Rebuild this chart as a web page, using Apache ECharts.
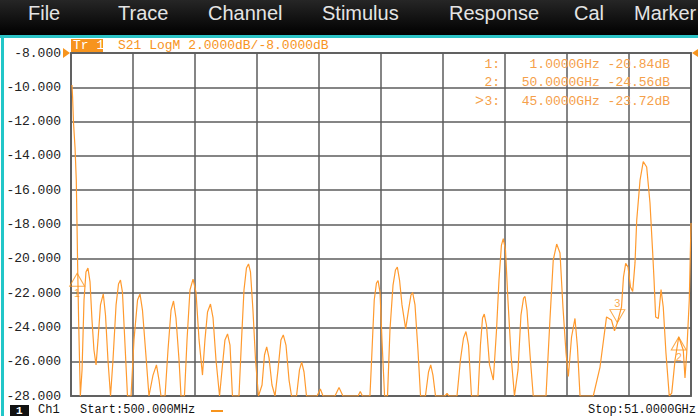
<!DOCTYPE html>
<html>
<head>
<meta charset="utf-8">
<title>S21 LogM</title>
<script src="https://cdn.jsdelivr.net/npm/echarts@6/dist/echarts.min.js"></script>
<style>
  html, body { margin: 0; padding: 0; background: #fff; }
  #chart { width: 698px; height: 416px; }
</style>
</head>
<body>
<div id="chart"></div>
<script>
// 频率 (GHz) / S21 (dB)，从截图读取
const freqGHz = [
  0.58, 0.63, 0.70, 0.83, 0.93, 0.99, 1.04, 1.12, 1.26, 1.40,
  1.56, 1.72, 1.88, 2.05, 2.21, 2.37, 2.54, 2.70, 2.90, 3.13,
  3.31, 3.51, 3.72, 3.92, 4.17, 4.37, 4.53, 4.69, 4.90, 5.10,
  5.39, 5.63, 5.92, 6.12, 6.32, 6.57, 6.85, 7.18, 7.46, 7.67,
  7.83, 8.16, 8.40, 8.65, 8.85, 9.05, 9.30, 9.46, 9.74, 9.95,
  10.19, 10.44, 10.68, 10.93, 11.21, 11.41, 11.62, 11.86, 12.07, 12.31,
  12.60, 12.80, 13.04, 13.25, 13.45, 13.65, 14.18, 14.39, 14.59, 14.79,
  14.96, 15.12, 15.32, 15.53, 15.77, 16.06, 16.26, 16.44, 16.63, 16.87,
  17.12, 17.36, 17.60, 17.79, 18.01, 18.26, 18.46, 18.87, 19.11, 19.29,
  19.48, 19.68, 20.54, 20.81, 21.03, 22.00, 22.33, 22.65, 23.88, 24.06,
  24.24, 24.85, 25.02, 25.20, 25.38, 25.51, 25.67, 25.83, 26.04, 26.28,
  26.48, 26.73, 26.93, 27.08, 27.26, 27.46, 27.76, 27.99, 28.19, 28.33,
  28.52, 28.76, 28.97, 29.37, 29.62, 29.80, 29.98, 30.19, 30.96, 31.13,
  31.29, 31.94, 32.22, 32.47, 32.67, 32.88, 33.12, 33.65, 33.85, 34.02,
  34.16, 34.34, 34.59, 34.90, 35.16, 35.36, 35.56, 35.71, 35.89, 36.09,
  36.34, 36.62, 36.91, 37.15, 37.36, 37.48, 37.64, 37.89, 38.15, 39.19,
  39.51, 39.78, 40.06, 40.33, 40.57, 40.82, 41.01, 41.27, 41.55, 41.75,
  41.96, 43.04, 43.59, 44.12, 44.52, 44.77, 45.00, 45.34, 45.50, 45.68,
  45.87, 46.07, 46.25, 46.44, 46.58, 46.85, 47.11, 47.39, 47.66, 47.88,
  47.99, 48.12, 48.34, 48.56, 48.74, 48.96, 49.23, 49.43, 49.70, 50.00,
  50.37, 50.51, 50.65, 50.86, 51.00
];
const traceDb = [
  -9.87, -10.57, -12.02, -13.54, -15.41, -18.03, -20.36, -23.57, -28, -26.48,
  -22.40, -20.77, -20.54, -21.35, -23.57, -25.32, -26.19, -24.73, -22.69, -22.05,
  -23.28, -25.90, -28, -25.90, -22.69, -21.47, -21.24, -21.94, -25.03, -28,
  -28, -24.73, -22.40, -22.05, -22.99, -25.32, -28, -26.78, -26.19, -27.07,
  -28, -28, -25.32, -22.99, -22.46, -23.45, -25.90, -28, -28, -24.73,
  -21.82, -21.18, -21.94, -24.73, -26.78, -24.73, -23.10, -22.64, -23.45, -25.90,
  -28, -26.48, -24.73, -24.38, -25.03, -28, -28, -24.73, -21.82, -20.54,
  -20.30, -20.77, -22.99, -25.90, -28, -27.36, -25.61, -25.14, -25.78, -27.36,
  -28, -26.48, -24.73, -24.44, -25.03, -27.07, -28, -28, -26.48, -26.02,
  -26.60, -28, -28, -27.59, -28, -28, -27.50, -28, -28, -27.74,
  -28, -28, -25.32, -22.40, -21.41, -21.27, -21.94, -24.73, -28, -28,
  -24.15, -21.53, -20.65, -20.48, -21.24, -22.69, -24.09, -22.99, -22.11, -21.97,
  -22.69, -25.32, -28, -28, -26.60, -26.19, -26.78, -28, -28, -27.85,
  -28, -28, -25.90, -24.62, -24.24, -25.03, -28, -28, -25.03, -23.45,
  -23.22, -23.86, -26.19, -27.07, -24.15, -21.24, -19.20, -18.82, -19.49, -22.40,
  -25.61, -28, -26.48, -23.28, -22.29, -22.20, -22.99, -25.61, -28, -28,
  -23.57, -20.07, -19.14, -19.66, -22.81, -25.49, -26.86, -24.56, -23.48, -25.14,
  -28, -28, -26.31, -23.39, -23.57, -24.20, -23.72, -22.81, -21.06, -20.27,
  -20.48, -21.64, -21.91, -20.24, -17.74, -15.41, -14.33, -14.65, -16.75, -19.66,
  -21.24, -23.39, -23.48, -21.79, -22.81, -25.49, -28, -27.83, -25.90, -24.56,
  -25.32, -26.95, -25.49, -22.40, -17.91
];

// 标记点
const markerNames = ['1', '2', '3'];
const markerFreq  = [1.0, 50.0, 45.0];
const markerDb    = [-20.84, -24.56, -23.72];
const activeMarker = 2;

// 菜单栏
const menuItems = ['File', 'Trace', 'Channel', 'Stimulus', 'Response', 'Cal', 'Marker'];
const menuX     = [28, 118, 208, 322, 449, 574, 634];

const startLabel = 'Start:500.000MHz';
const stopLabel  = 'Stop:51.0000GHz';
const traceTitle = 'S21 LogM 2.0000dB/-8.0000dB';

const ORANGE = '#F7941D';
const MONO = '"Liberation Mono", "DejaVu Sans Mono", monospace';

const chart = echarts.init(document.getElementById('chart'), null, { renderer: 'svg' });

const tracePts = freqGHz.map((f, i) => [f, traceDb[i]]);

// 标记读数（右上角）
const readout = [];
markerNames.forEach((name, i) => {
  const y = 64 + i * 18.7;
  const font = '13px ' + MONO;
  if (i === activeMarker) {
    readout.push({ type: 'text', x: 484, y: y, z: 20,
      style: { text: '>', fill: '#F5A04A', font: '15px ' + MONO, align: 'right', verticalAlign: 'middle' } });
  }
  readout.push({ type: 'text', x: 500, y: y, z: 20,
    style: { text: name + ':', fill: '#F5A04A', font: font, align: 'right', verticalAlign: 'middle' } });
  readout.push({ type: 'text', x: 670, y: y, z: 20,
    style: {
      text: markerFreq[i].toFixed(4) + 'GHz ' + markerDb[i].toFixed(2) + 'dB',
      fill: '#F5A04A', font: font, align: 'right', verticalAlign: 'middle'
    } });
});

const menuText = menuItems.map((m, i) => ({
  type: 'text', x: menuX[i], y: 13, z: 30,
  style: { text: m, fill: '#e4e4e4', font: '20px "Liberation Sans", Arial, sans-serif', verticalAlign: 'middle' }
}));

const chrome = [
  // 顶部菜单栏 + 青色分隔线
  { type: 'rect', shape: { x: 0, y: 0, width: 698, height: 35 }, z: 25,
    style: { fill: new echarts.graphic.LinearGradient(0, 0, 0, 1, [
      { offset: 0, color: '#262626' }, { offset: 1, color: '#000' }]) } },
  { type: 'rect', shape: { x: 0, y: 35, width: 698, height: 3 }, z: 25, style: { fill: '#2CC3C6' } },
  { type: 'rect', shape: { x: 1, y: 38, width: 3, height: 378 }, z: 25, style: { fill: '#22C6C8' } },
  // 轨迹标题
  { type: 'rect', shape: { x: 71, y: 39, width: 32, height: 13 }, z: 20, style: { fill: ORANGE } },
  { type: 'text', x: 73, y: 45.5, z: 21,
    style: { text: 'Tr 1', fill: '#fff', font: '13px ' + MONO, verticalAlign: 'middle' } },
  { type: 'text', x: 118, y: 45.5, z: 21,
    style: { text: traceTitle, fill: ORANGE, font: '13px ' + MONO, verticalAlign: 'middle' } },
  // 参考电平三角
  { type: 'polygon', shape: { points: [[63, 48], [70, 53], [63, 58]] }, z: 21, style: { fill: ORANGE } },
  { type: 'polygon', shape: { points: [[698, 49], [692, 53], [698, 57]] }, z: 21, style: { fill: ORANGE } },
  // 底部状态栏
  { type: 'rect', shape: { x: 10, y: 405, width: 19, height: 11 }, z: 20, style: { fill: '#111' } },
  { type: 'text', x: 16, y: 416, z: 21,
    style: { text: '1', fill: '#fff', font: 'bold 11px ' + MONO, verticalAlign: 'bottom' } },
  { type: 'text', x: 38, y: 416, z: 21,
    style: { text: 'Ch1', fill: '#111', font: '12px ' + MONO, verticalAlign: 'bottom' } },
  { type: 'text', x: 80, y: 416, z: 21,
    style: { text: startLabel, fill: '#111', font: '12px ' + MONO, verticalAlign: 'bottom' } },
  { type: 'rect', shape: { x: 211, y: 410, width: 12, height: 2 }, z: 21, style: { fill: ORANGE } },
  { type: 'text', x: 588, y: 416, z: 21,
    style: { text: stopLabel, fill: '#111', font: '12px ' + MONO, verticalAlign: 'bottom' } }
];

// 标记三角（空心）
const markerStyle = {
  type: 'scatter',
  symbol: 'triangle',
  symbolSize: [15, 13],
  itemStyle: { color: 'rgba(255,255,255,0)', borderColor: ORANGE, borderWidth: 1 },
  label: { show: true, color: ORANGE, fontSize: 11, fontFamily: 'sans-serif' },
  z: 10,
  silent: true
};

const option = {
  backgroundColor: '#fff',
  animation: false,
  grid: {
    left: 71, right: 7, top: 53, bottom: 20,
    show: true, borderColor: '#707070', borderWidth: 2, backgroundColor: 'transparent'
  },
  xAxis: [
    { type: 'value', min: 0.5, max: 51, show: false },
    // 10 格网格线
    {
      type: 'value', min: 0, max: 10, interval: 1, position: 'bottom',
      axisLine: { show: false }, axisTick: { show: false }, axisLabel: { show: false },
      splitLine: { show: true, lineStyle: { color: '#5c5c5c', width: 1.5 } }
    }
  ],
  yAxis: {
    type: 'value', min: -28, max: -8, interval: 2,
    axisLine: { show: false }, axisTick: { show: false },
    axisLabel: {
      color: '#222', fontSize: 13, fontFamily: MONO, margin: 10,
      formatter: (v) => v.toFixed(3)
    },
    splitLine: { show: true, lineStyle: { color: '#5c5c5c', width: 1.5 } }
  },
  series: [
    {
      type: 'line',
      xAxisIndex: 0,
      data: tracePts,
      showSymbol: false,
      clip: true,
      lineStyle: { color: '#FF9A2E', width: 1.2 },
      z: 5,
      silent: true
    },
    Object.assign({}, markerStyle, {
      xAxisIndex: 0,
      symbolOffset: [0, '50%'],
      data: [0, 1].map(i => ({ value: [markerFreq[i], markerDb[i]], name: markerNames[i] })),
      label: Object.assign({}, markerStyle.label, { position: 'bottom', distance: 1, formatter: '{b}' })
    }),
    Object.assign({}, markerStyle, {
      xAxisIndex: 0,
      symbolRotate: 180,
      symbolOffset: [0, '-50%'],
      data: [{ value: [markerFreq[2], markerDb[2]], name: markerNames[2] }],
      label: Object.assign({}, markerStyle.label, { position: 'top', distance: 1, formatter: '{b}' })
    })
  ],
  graphic: chrome.concat(menuText, readout)
};

chart.setOption(option);
</script>
</body>
</html>
